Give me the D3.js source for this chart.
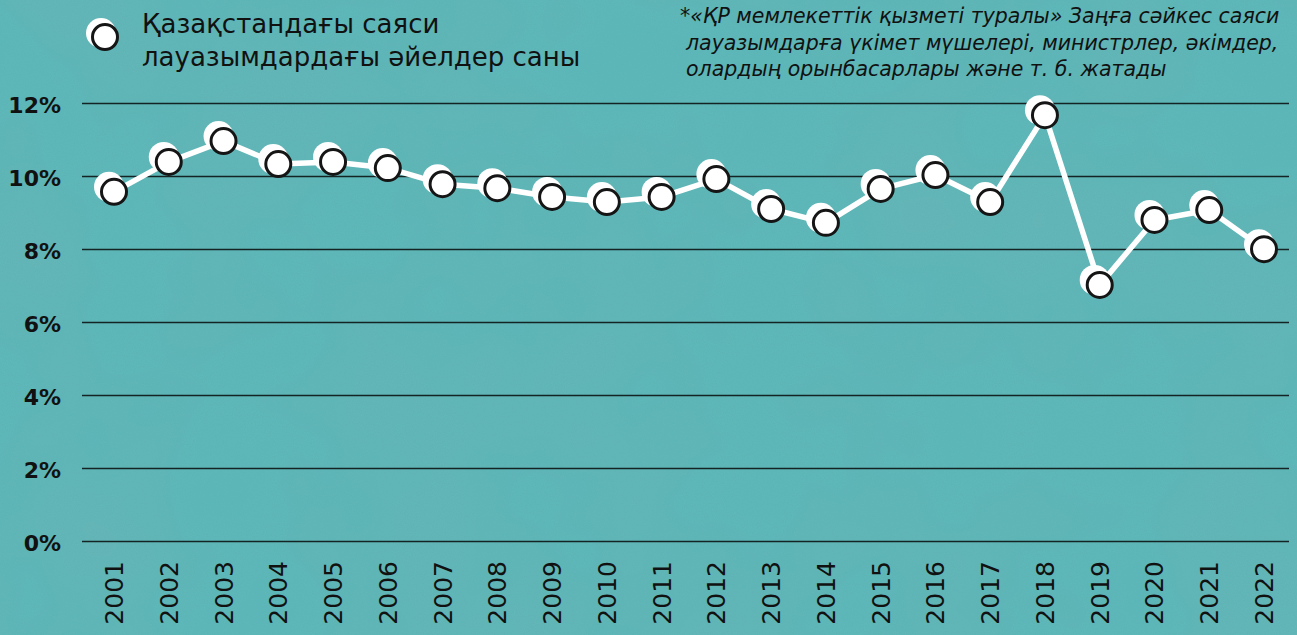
<!DOCTYPE html>
<html>
<head>
<meta charset="utf-8">
<script src="https://cdn.jsdelivr.net/npm/d3@7"></script>
<style>
  html, body { margin: 0; padding: 0; background: #5bb7b8; }
  svg { display: block; }
</style>
</head>
<body>
<div id="chart"></div>
<script>
// years and share of women in political posts, %
var years = [2001, 2002, 2003, 2004, 2005, 2006, 2007, 2008, 2009, 2010, 2011,
             2012, 2013, 2014, 2015, 2016, 2017, 2018, 2019, 2020, 2021, 2022];
var shares = [9.58, 10.40, 10.97, 10.34, 10.40, 10.23, 9.79, 9.68, 9.44, 9.30, 9.44,
              9.93, 9.11, 8.73, 9.66, 10.04, 9.30, 11.68, 7.03, 8.81, 9.08, 8.01];
var yTicks = [0, 2, 4, 6, 8, 10, 12];
var legendLines = ['Қазақстандағы саяси', 'лауазымдардағы әйелдер саны'];
var noteLines = ['*«ҚР мемлекеттік қызметі туралы» Заңға сәйкес саяси',
                 'лауазымдарға үкімет мүшелері, министрлер, әкімдер,',
                 'олардың орынбасарлары және т. б. жатады'];

var W = 1297, H = 635;
var font = "'DejaVu Sans', 'Noto Sans', sans-serif";

var svg = d3.select('#chart').append('svg').attr('width', W).attr('height', H);

// paper-ish texture on the teal background
var defs = svg.append('defs');
var f = defs.append('filter').attr('id', 'paper').attr('x', 0).attr('y', 0).attr('width', '100%').attr('height', '100%');
f.append('feTurbulence').attr('type', 'fractalNoise').attr('baseFrequency', 0.9).attr('numOctaves', 2).attr('seed', 3).attr('result', 'n');
f.append('feColorMatrix').attr('type', 'matrix')
  .attr('values', '0 0 0 0 0.1  0 0 0 0 0.35  0 0 0 0 0.36  0 0 0 0.25 0');
var f2 = defs.append('filter').attr('id', 'blotch').attr('x', 0).attr('y', 0).attr('width', '100%').attr('height', '100%');
f2.append('feTurbulence').attr('type', 'fractalNoise').attr('baseFrequency', 0.006).attr('numOctaves', 3).attr('seed', 7);
f2.append('feColorMatrix').attr('type', 'matrix')
  .attr('values', '0 0 0 0 0.2  0 0 0 0 0.45  0 0 0 0 0.46  0 0 0 0.45 -0.12');

svg.append('rect').attr('width', W).attr('height', H).attr('fill', '#5cb9ba');
svg.append('rect').attr('width', W).attr('height', H).attr('filter', 'url(#blotch)');
svg.append('rect').attr('width', W).attr('height', H).attr('filter', 'url(#paper)');

var x = d3.scalePoint().domain(years).range([114, 1264]);
var y = d3.scaleLinear().domain([0, 12]).range([541.5, 103.5]);

// grid lines
svg.append('g').selectAll('line').data(yTicks).enter().append('line')
  .attr('x1', 82).attr('x2', 1289)
  .attr('y1', function(d){ return y(d); })
  .attr('y2', function(d){ return y(d); })
  .attr('stroke', '#142424').attr('stroke-width', 1.6);

// y axis labels
svg.append('g').selectAll('text').data(yTicks).enter().append('text')
  .attr('x', 61)
  .attr('y', function(d){ return y(d) + 9; })
  .attr('text-anchor', 'end')
  .style('font-family', font).style('font-size', '22px').style('font-weight', 'bold')
  .attr('fill', '#111')
  .text(function(d){ return d + '%'; });

// x axis labels, rotated
svg.append('g').selectAll('text').data(years).enter().append('text')
  .attr('transform', function(d){ return 'translate(' + (x(d) + 9) + ',561) rotate(-90)'; })
  .attr('text-anchor', 'end')
  .style('font-family', font).style('font-size', '25px').style('font-weight', '500')
  .attr('fill', '#111')
  .text(function(d){ return d; });

// line
var line = d3.line()
  .x(function(d, i){ return x(years[i]); })
  .y(function(d){ return y(d); });
svg.append('path').datum(shares)
  .attr('d', line)
  .attr('fill', 'none').attr('stroke', '#fff').attr('stroke-width', 5.5)
  .attr('stroke-linejoin', 'round');

// markers: white offset disk behind, outlined disk on the point
var pts = svg.append('g').selectAll('g').data(shares).enter().append('g')
  .attr('transform', function(d, i){ return 'translate(' + x(years[i]) + ',' + y(d) + ')'; });
pts.append('circle').attr('cx', -5).attr('cy', -5).attr('r', 15).attr('fill', '#fff');
pts.append('circle').attr('r', 12.5).attr('fill', '#fff').attr('stroke', '#151515').attr('stroke-width', 3);

// legend
var lg = svg.append('g');
lg.append('circle').attr('cx', 101).attr('cy', 33).attr('r', 15).attr('fill', '#fff');
lg.append('circle').attr('cx', 105).attr('cy', 37).attr('r', 12.5).attr('fill', '#fff')
  .attr('stroke', '#151515').attr('stroke-width', 3);
lg.selectAll('text').data(legendLines).enter().append('text')
  .attr('x', 142)
  .attr('y', function(d, i){ return 33 + i * 33; })
  .style('font-family', font).style('font-size', '26px')
  .attr('fill', '#111')
  .text(function(d){ return d; });

// footnote
svg.append('g').selectAll('text').data(noteLines).enter().append('text')
  .attr('x', function(d, i){ return i == 0 ? 680 : 686; })
  .attr('y', function(d, i){ return 23 + i * 26.5; })
  .style('font-family', font).style('font-size', '20.5px').style('font-style', 'italic')
  .attr('fill', '#111')
  .text(function(d){ return d; });
</script>
</body>
</html>
